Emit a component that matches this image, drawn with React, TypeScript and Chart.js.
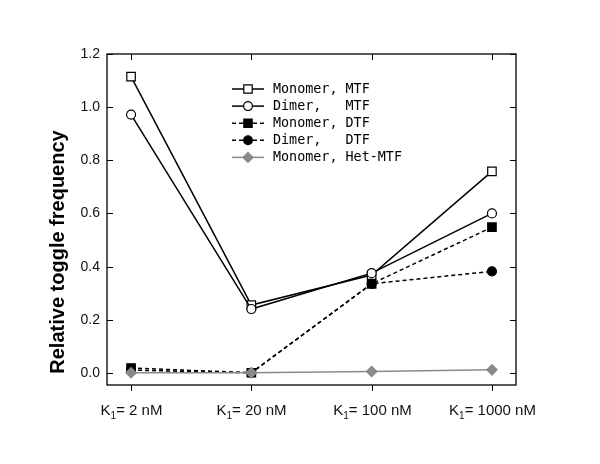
import React, { useEffect, useRef } from 'react';
import { Chart, registerables } from 'chart.js';

Chart.register(...registerables);

const categories = ['K₁= 2 nM', 'K₁= 20 nM', 'K₁= 100 nM', 'K₁= 1000 nM'];
const yTickValues = [0, 0.2, 0.4, 0.6, 0.8, 1.0, 1.2];
const yTitle = 'Relative toggle frequency';

const monomerMTF = [1.115, 0.255, 0.368, 0.758];
const dimerMTF = [0.972, 0.24, 0.375, 0.6];
const monomerDTF = [0.018, 0.0, 0.335, 0.548];
const dimerDTF = [0.01, 0.0, 0.335, 0.382];
const monomerHetMTF = [0.0, 0.0, 0.005, 0.011];

const seriesLabels = ['Monomer, MTF', 'Dimer,   MTF', 'Monomer, DTF', 'Dimer,   DTF', 'Monomer, Het-MTF'];

const GRAY = '#8a8a8a';

type Style = { color: string; dash: number[]; shape: string; fill: string; radius: number; legendR: number };
const styles: Style[] = [
  { color: '#000', dash: [], shape: 'rect', fill: '#fff', radius: 6, legendR: 4.2 },
  { color: '#000', dash: [], shape: 'circle', fill: '#fff', radius: 4.5, legendR: 4.4 },
  { color: '#000', dash: [4, 3], shape: 'rect', fill: '#000', radius: 6, legendR: 4.2 },
  { color: '#000', dash: [4, 3], shape: 'circle', fill: '#000', radius: 4.5, legendR: 4.4 },
  { color: GRAY, dash: [], shape: 'rectRot', fill: GRAY, radius: 5.2, legendR: 5 },
];

const allSeries = [monomerMTF, dimerMTF, monomerDTF, dimerDTF, monomerHetMTF];

function drawMarker(ctx: CanvasRenderingContext2D, s: Style, x: number, y: number) {
  ctx.save();
  ctx.setLineDash([]);
  ctx.lineWidth = 1.2;
  ctx.strokeStyle = s.color;
  ctx.fillStyle = s.fill;
  ctx.beginPath();
  const r = s.legendR;
  if (s.shape === 'rect') {
    ctx.rect(x - r, y - r, 2 * r, 2 * r);
  } else if (s.shape === 'circle') {
    ctx.arc(x, y, r, 0, Math.PI * 2);
  } else {
    ctx.moveTo(x, y - r);
    ctx.lineTo(x + r, y);
    ctx.lineTo(x, y + r);
    ctx.lineTo(x - r, y);
    ctx.closePath();
  }
  ctx.fill();
  ctx.stroke();
  ctx.restore();
}

const decorPlugin = {
  id: 'decor',
  afterDraw(chart: any) {
    const ctx: CanvasRenderingContext2D = chart.ctx;
    const { left, right, top, bottom } = chart.chartArea;
    const xs = chart.scales.x;
    const ys = chart.scales.y;
    ctx.save();
    // frame
    ctx.strokeStyle = '#000';
    ctx.lineWidth = 1.3;
    ctx.setLineDash([]);
    ctx.strokeRect(left, top, right - left, bottom - top);
    // y ticks (inward on both sides) and labels
    ctx.lineWidth = 1;
    ctx.fillStyle = '#111';
    ctx.font = '14px "Liberation Sans", Arial, sans-serif';
    ctx.textAlign = 'right';
    ctx.textBaseline = 'middle';
    yTickValues.forEach((v) => {
      const py = Math.round(ys.getPixelForValue(v)) + 0.5;
      ctx.beginPath();
      ctx.moveTo(left, py);
      ctx.lineTo(left + 6, py);
      ctx.moveTo(right, py);
      ctx.lineTo(right - 6, py);
      ctx.stroke();
      ctx.fillText(v.toFixed(1), left - 7, py);
    });
    // x ticks: outward at bottom, inward at top
    categories.forEach((label, i) => {
      const px = Math.round(xs.getPixelForValue(i)) + 0.5;
      ctx.beginPath();
      ctx.moveTo(px, bottom);
      ctx.lineTo(px, bottom + 6);
      ctx.moveTo(px, top);
      ctx.lineTo(px, top + 6);
      ctx.stroke();
      const parts = label.split('₁');
      const mainFont = '15px "Liberation Sans", Arial, sans-serif';
      const subFont = '10px "Liberation Sans", Arial, sans-serif';
      ctx.font = mainFont;
      const w0 = ctx.measureText(parts[0]).width;
      const w2 = ctx.measureText(parts[1]).width;
      ctx.font = subFont;
      const w1 = ctx.measureText('1').width;
      const total = w0 + w1 + w2;
      let x = px - total / 2;
      const baseY = bottom + 30;
      ctx.textAlign = 'left';
      ctx.textBaseline = 'alphabetic';
      ctx.font = mainFont;
      ctx.fillText(parts[0], x, baseY);
      x += w0;
      ctx.font = subFont;
      ctx.fillText('1', x, baseY + 4);
      x += w1;
      ctx.font = mainFont;
      ctx.fillText(parts[1], x, baseY);
    });
    // y title
    ctx.save();
    ctx.translate(58, 252);
    ctx.rotate(-Math.PI / 2);
    ctx.textAlign = 'center';
    ctx.textBaseline = 'middle';
    ctx.fillStyle = '#000';
    ctx.font = 'bold 20px "Liberation Sans", Arial, sans-serif';
    ctx.fillText(yTitle, 0, 0);
    ctx.restore();
    // legend
    const lx0 = left + 125;
    const lx1 = left + 157;
    const tx = left + 166;
    const ly0 = top + 35;
    const rowH = 17.1;
    ctx.font = '13.4px "DejaVu Sans Mono", monospace';
    ctx.textAlign = 'left';
    ctx.textBaseline = 'middle';
    seriesLabels.forEach((lab, i) => {
      const s = styles[i];
      const y = ly0 + i * rowH;
      ctx.save();
      ctx.strokeStyle = s.color;
      ctx.lineWidth = 1.5;
      ctx.setLineDash(s.dash);
      ctx.beginPath();
      ctx.moveTo(lx0, y);
      ctx.lineTo(lx1, y);
      ctx.stroke();
      ctx.restore();
      drawMarker(ctx, s, (lx0 + lx1) / 2, y);
      ctx.fillStyle = '#000';
      ctx.fillText(lab, tx, y + 0.5);
    });
    ctx.restore();
  },
};

export default function App() {
  const ref = useRef<HTMLCanvasElement>(null);
  useEffect(() => {
    document.body.style.margin = '0';
    const canvas = ref.current!;
    const datasets = allSeries.map((vals, i) => ({
      label: seriesLabels[i],
      data: vals.map((v, j) => ({ x: j, y: v })),
      borderColor: styles[i].color,
      backgroundColor: styles[i].fill,
      pointBackgroundColor: styles[i].fill,
      pointBorderColor: styles[i].color,
      pointBorderWidth: 1.2,
      pointStyle: styles[i].shape,
      pointRadius: styles[i].radius,
      borderWidth: 1.5,
      borderDash: styles[i].dash,
      tension: 0,
      fill: false,
      order: 4 - i,
    }));
    const chart = new Chart(canvas, {
      type: 'line',
      data: { datasets },
      options: {
        animation: false,
        responsive: false,
        devicePixelRatio: 1,
        layout: { padding: { left: 0, right: 84, top: 54, bottom: 0 } },
        plugins: { legend: { display: false }, tooltip: { enabled: false } },
        scales: {
          x: {
            type: 'linear',
            min: -0.2,
            max: 3.2,
            grid: { display: false, drawTicks: false },
            border: { display: false },
            ticks: { display: false },
            afterFit: (s: any) => { s.height = 79; },
          },
          y: {
            type: 'linear',
            min: -0.046,
            max: 1.2,
            grid: { display: false, drawTicks: false },
            border: { display: false },
            ticks: { display: false },
            afterFit: (s: any) => { s.width = 107; },
          },
        },
      },
      plugins: [decorPlugin],
    });
    return () => chart.destroy();
  }, []);
  return (
    <div style={{ width: 600, height: 464, background: '#fff' }}>
      <canvas ref={ref} width={600} height={464} style={{ display: 'block' }} />
    </div>
  );
}
